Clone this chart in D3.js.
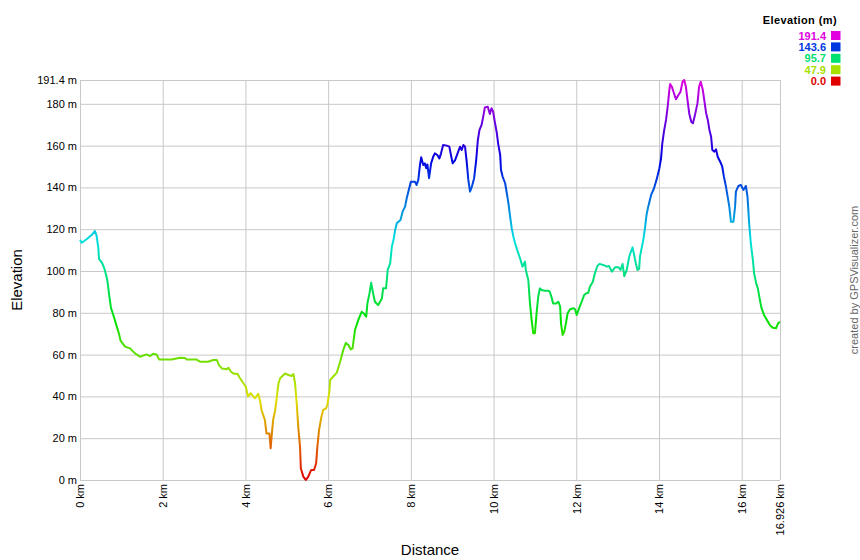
<!DOCTYPE html>
<html><head><meta charset="utf-8">
<script src="https://cdn.jsdelivr.net/npm/d3@7"></script>
<style>
body{margin:0;background:#fff;}
svg{font-family:"Liberation Sans",Arial,sans-serif;}
</style></head>
<body><svg id="c" width="860" height="560"></svg>
<script>
const distanceKm = [0.00,0.04,0.16,0.28,0.36,0.40,0.44,0.46,0.54,0.60,0.66,0.71,0.75,0.83,0.89,0.94,0.98,1.09,1.21,1.33,1.45,1.61,1.69,1.77,1.85,1.91,2.22,2.42,2.54,2.58,2.82,2.90,3.10,3.22,3.31,3.36,3.43,3.55,3.59,3.65,3.71,3.81,3.87,3.95,4.01,4.06,4.13,4.23,4.31,4.35,4.39,4.47,4.51,4.58,4.61,4.64,4.67,4.72,4.76,4.80,4.84,4.96,5.04,5.12,5.16,5.20,5.24,5.28,5.32,5.34,5.40,5.46,5.52,5.59,5.66,5.71,5.74,5.78,5.83,5.88,5.95,5.98,6.03,6.05,6.12,6.21,6.29,6.37,6.43,6.49,6.55,6.59,6.65,6.73,6.81,6.87,6.92,6.95,7.00,7.04,7.08,7.13,7.21,7.30,7.33,7.40,7.44,7.50,7.54,7.58,7.62,7.66,7.75,7.80,7.86,7.90,7.96,8.00,8.10,8.14,8.18,8.22,8.25,8.30,8.34,8.37,8.40,8.44,8.49,8.54,8.58,8.64,8.69,8.73,8.78,8.87,8.93,8.97,9.01,9.07,9.13,9.19,9.23,9.27,9.31,9.35,9.39,9.43,9.47,9.53,9.58,9.62,9.66,9.71,9.75,9.79,9.86,9.91,9.95,9.99,10.03,10.08,10.11,10.16,10.18,10.22,10.28,10.32,10.36,10.40,10.44,10.48,10.52,10.57,10.64,10.70,10.72,10.76,10.78,10.84,10.88,10.92,10.96,11.00,11.04,11.08,11.12,11.16,11.24,11.32,11.36,11.41,11.44,11.51,11.57,11.61,11.63,11.67,11.71,11.75,11.79,11.85,11.93,11.97,12.01,12.07,12.13,12.19,12.24,12.29,12.33,12.40,12.45,12.51,12.56,12.65,12.74,12.79,12.86,12.94,13.02,13.07,13.12,13.16,13.22,13.28,13.32,13.36,13.40,13.44,13.48,13.52,13.54,13.58,13.62,13.66,13.70,13.74,13.78,13.81,13.88,13.94,14.01,14.05,14.08,14.12,14.17,14.21,14.25,14.27,14.31,14.35,14.41,14.47,14.52,14.57,14.61,14.65,14.69,14.73,14.78,14.82,14.87,14.93,14.97,15.01,15.06,15.10,15.14,15.18,15.22,15.26,15.29,15.34,15.38,15.42,15.48,15.53,15.57,15.62,15.66,15.70,15.74,15.80,15.84,15.86,15.92,15.98,16.04,16.10,16.14,16.18,16.22,16.27,16.30,16.35,16.39,16.44,16.48,16.54,16.60,16.68,16.75,16.83,16.88,16.926];
const elevationM = [114.8,113.5,115.2,117.2,119.1,117.0,111.6,105.8,103.7,100.5,95.7,87.7,82.3,77.4,73.4,70.2,66.7,63.8,63.0,60.6,59.0,60.1,59.3,60.4,60.1,57.7,57.7,58.5,58.4,57.7,57.6,56.6,56.6,57.4,57.4,55.0,53.4,53.0,53.7,51.8,51.0,50.7,48.7,46.3,44.6,39.9,41.5,39.1,41.2,38.3,33.5,28.7,22.3,22.3,15.2,22.3,28.7,33.5,39.9,46.3,48.7,51.0,50.2,49.8,50.7,46.3,36.7,24.7,16.0,5.6,1.6,0.0,1.6,4.8,4.8,8.0,16.0,23.9,29.5,33.5,34.3,35.9,42.3,47.9,49.4,51.4,56.6,62.5,65.6,64.6,62.5,63.0,71.8,76.6,80.5,79.5,78.1,84.5,89.3,94.4,90.1,85.3,83.7,86.9,91.7,91.7,100.5,103.7,111.6,114.8,119.6,122.8,124.4,128.4,130.8,134.8,139.6,142.7,142.7,141.2,143.6,150.7,154.4,150.7,151.5,149.2,151.0,144.4,151.5,154.7,156.3,155.5,153.9,156.3,160.3,160.0,159.5,155.5,151.5,153.1,156.3,159.5,157.9,160.3,159.5,152.3,143.6,138.0,140.0,144.4,153.1,162.7,167.5,169.9,173.9,178.3,178.6,175.1,177.9,176.2,171.4,165.9,161.1,155.5,148.3,145.1,142.0,137.2,132.4,126.0,120.4,116.4,113.3,110.1,106.1,102.1,102.9,104.5,100.5,95.7,84.5,76.6,70.2,70.2,79.8,87.7,91.7,90.9,90.6,90.6,90.1,86.9,84.5,84.5,85.3,82.9,75.0,69.4,71.0,75.0,79.8,81.7,82.2,81.7,79.0,82.2,85.3,88.5,89.3,89.6,92.5,94.9,98.9,102.4,103.4,102.9,102.1,102.4,99.7,101.8,101.8,100.5,103.4,97.6,100.5,106.9,109.2,111.3,107.7,103.7,100.5,101.0,106.9,110.9,114.8,120.4,127.0,130.8,134.0,136.4,139.6,143.6,149.2,153.9,161.1,166.7,172.3,178.6,186.6,189.5,188.2,185.8,182.2,184.2,185.8,190.6,191.4,188.2,181.8,175.5,171.4,170.7,174.7,180.2,188.2,190.6,186.6,181.0,175.5,172.3,167.5,164.3,157.9,157.1,158.2,154.7,152.3,149.9,145.1,140.3,135.6,130.8,123.6,123.6,130.8,138.0,140.7,141.2,138.8,140.7,135.6,122.8,113.3,105.3,98.9,94.1,91.7,86.1,82.2,79.0,76.9,74.2,72.9,72.6,75.0,75.7];
const yTicks = [0,20,40,60,80,100,120,140,160,180,191.4];
const xTicks = [0,2,4,6,8,10,12,14,16,16.926];
const legendValues = [191.4,143.6,95.7,47.9,0.0];

const svg = d3.select("#c");
const L=80,R=780,T=80,B=480;
const maxE = 191.4, maxD = 16.926;
const x = d3.scaleLinear().domain([0,maxD]).range([L,R]);
const y = d3.scaleLinear().domain([0,maxE]).range([B,T]);
const colorOf = v => d3.hsl(300*v/maxE,1,0.44).formatHex();

// grid + y axis
const yAxis = d3.axisLeft(y).tickValues(yTicks).tickSize(-(R-L)).tickPadding(3)
  .tickFormat(d => (d===191.4? "191.4" : d3.format("d")(d)) + " m");
const gy = svg.append("g").attr("transform",`translate(${L},0)`).call(yAxis);
gy.select(".domain").remove();
gy.selectAll("line").attr("stroke","#c8c8c8");
gy.selectAll("text").attr("font-size",11).attr("fill","#000").attr("font-family","Liberation Sans, Arial");

const xAxis = d3.axisBottom(x).tickValues(xTicks).tickSize(-(B-T)).tickPadding(3)
  .tickFormat(d => d + " km");
const gx = svg.append("g").attr("transform",`translate(0,${B})`).call(xAxis);
gx.select(".domain").remove();
gx.selectAll("line").attr("stroke","#c8c8c8");
gx.selectAll("text").attr("font-size",11).attr("fill","#000").attr("font-family","Liberation Sans, Arial")
  .attr("transform","rotate(-90)").attr("text-anchor","end").attr("x",-4).attr("y",0).attr("dy","0.35em");

// gradient
const defs = svg.append("defs");
const grad = defs.append("linearGradient").attr("id","eg").attr("gradientUnits","userSpaceOnUse")
  .attr("x1",0).attr("x2",0).attr("y1",y(0)).attr("y2",y(maxE));
d3.range(0,1.0001,0.05).forEach(t => grad.append("stop").attr("offset",t).attr("stop-color",colorOf(t*maxE)));

const pts = distanceKm.map((d,i)=>[d,elevationM[i]]);
const line = d3.line().x(d=>x(d[0])).y(d=>y(d[1]));
svg.append("path").attr("d",line(pts)).attr("fill","none").attr("stroke","url(#eg)")
  .attr("stroke-width",2).attr("stroke-linejoin","round");

// titles
svg.append("text").attr("x",(L+R)/2).attr("y",555).attr("text-anchor","middle").attr("font-size",15).text("Distance");
svg.append("text").attr("transform",`translate(22,${(T+B)/2}) rotate(-90)`).attr("text-anchor","middle").attr("font-size",15).text("Elevation");
svg.append("text").attr("transform",`translate(858,${(T+B)/2}) rotate(-90)`).attr("text-anchor","middle").attr("font-size",11).attr("fill","#666").text("created by GPSVisualizer.com");

// legend
svg.append("text").attr("x",837).attr("y",24).attr("text-anchor","end").attr("font-size",11).attr("font-weight","bold").attr("letter-spacing",0.4).text("Elevation (m)");
legendValues.forEach((v,i)=>{
  const by = 39.5 + i*11.4;
  svg.append("text").attr("x",826).attr("y",by).attr("text-anchor","end").attr("font-size",11).attr("font-weight","bold").attr("fill",colorOf(v)).text(v.toFixed(1));
  svg.append("rect").attr("x",831).attr("y",by-8.5).attr("width",9.5).attr("height",9).attr("fill",colorOf(v));
});
</script></body></html>
